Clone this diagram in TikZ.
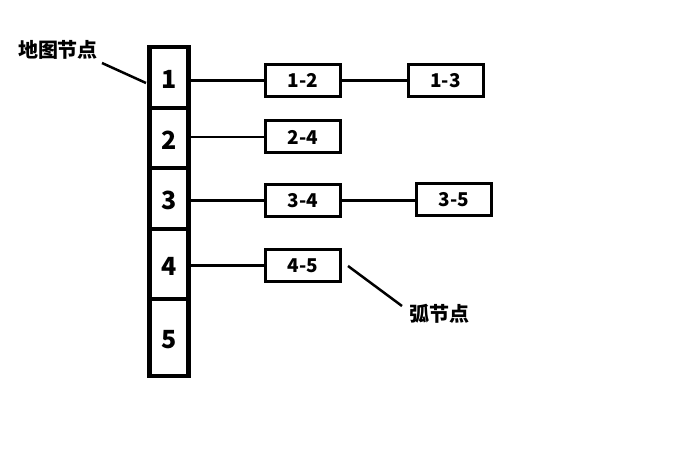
\documentclass[tikz,border=0pt]{standalone}
\usepackage{fontspec}
\setmainfont{Noto Sans CJK SC}
\begin{document}
\begin{tikzpicture}[x=1pt,y=-1pt,
  cell/.style={draw,line width=4.5pt,minimum width=39pt,inner sep=0pt,text height=23pt,text depth=0pt,font=\fontsize{25}{28}\selectfont\bfseries},
  arc/.style={draw,line width=3pt,minimum width=75pt,minimum height=32pt,inner sep=0pt,font=\fontsize{19}{22}\selectfont\bfseries},
  conn/.style={line width=2.5pt},
  lbl/.style={font=\fontsize{20}{24}\selectfont\bfseries,inner sep=0pt}]
\useasboundingbox (0,0) rectangle (673,449);
\node[cell,minimum height=61pt] (c1) at (169,77.5) {1};
\node[cell,minimum height=60pt] (c2) at (169,138) {2};
\node[cell,minimum height=61pt] (c3) at (169,198.5) {3};
\node[cell,minimum height=70pt] (c4) at (169,264) {4};
\node[cell,minimum height=77pt] (c5) at (169,337.5) {5};
\node[arc] (b12) at (303,80.5) {1-2};
\node[arc] (b13) at (445.5,80.5) {1-3};
\node[arc] (b24) at (303,137) {2-4};
\node[arc] (b34) at (303,200.5) {3-4};
\node[arc] (b35) at (454,200) {3-5};
\node[arc] (b45) at (303,265.5) {4-5};
\draw[conn] (b12.west) -- (b12.west -| c1.east);
\draw[conn] (b24.west) -- (b24.west -| c2.east);
\draw[conn] (b34.west) -- (b34.west -| c3.east);
\draw[conn] (b45.west) -- (b45.west -| c4.east);
\draw[conn] (b12.east) -- (b12.east -| b13.west);
\draw[conn] (b34.east) -- (b34.east -| b35.west);
\node[lbl] (l1) at (58,50) {地图节点};
\node[lbl] (l2) at (439,314) {弧节点};
\coordinate (p1) at (102,63);
\coordinate (q1) at (146,83);
\coordinate (p2) at (348,266);
\coordinate (q2) at (402,306);
\draw[conn] (p1) -- (q1);
\draw[conn] (p2) -- (q2);
\end{tikzpicture}
\end{document}
